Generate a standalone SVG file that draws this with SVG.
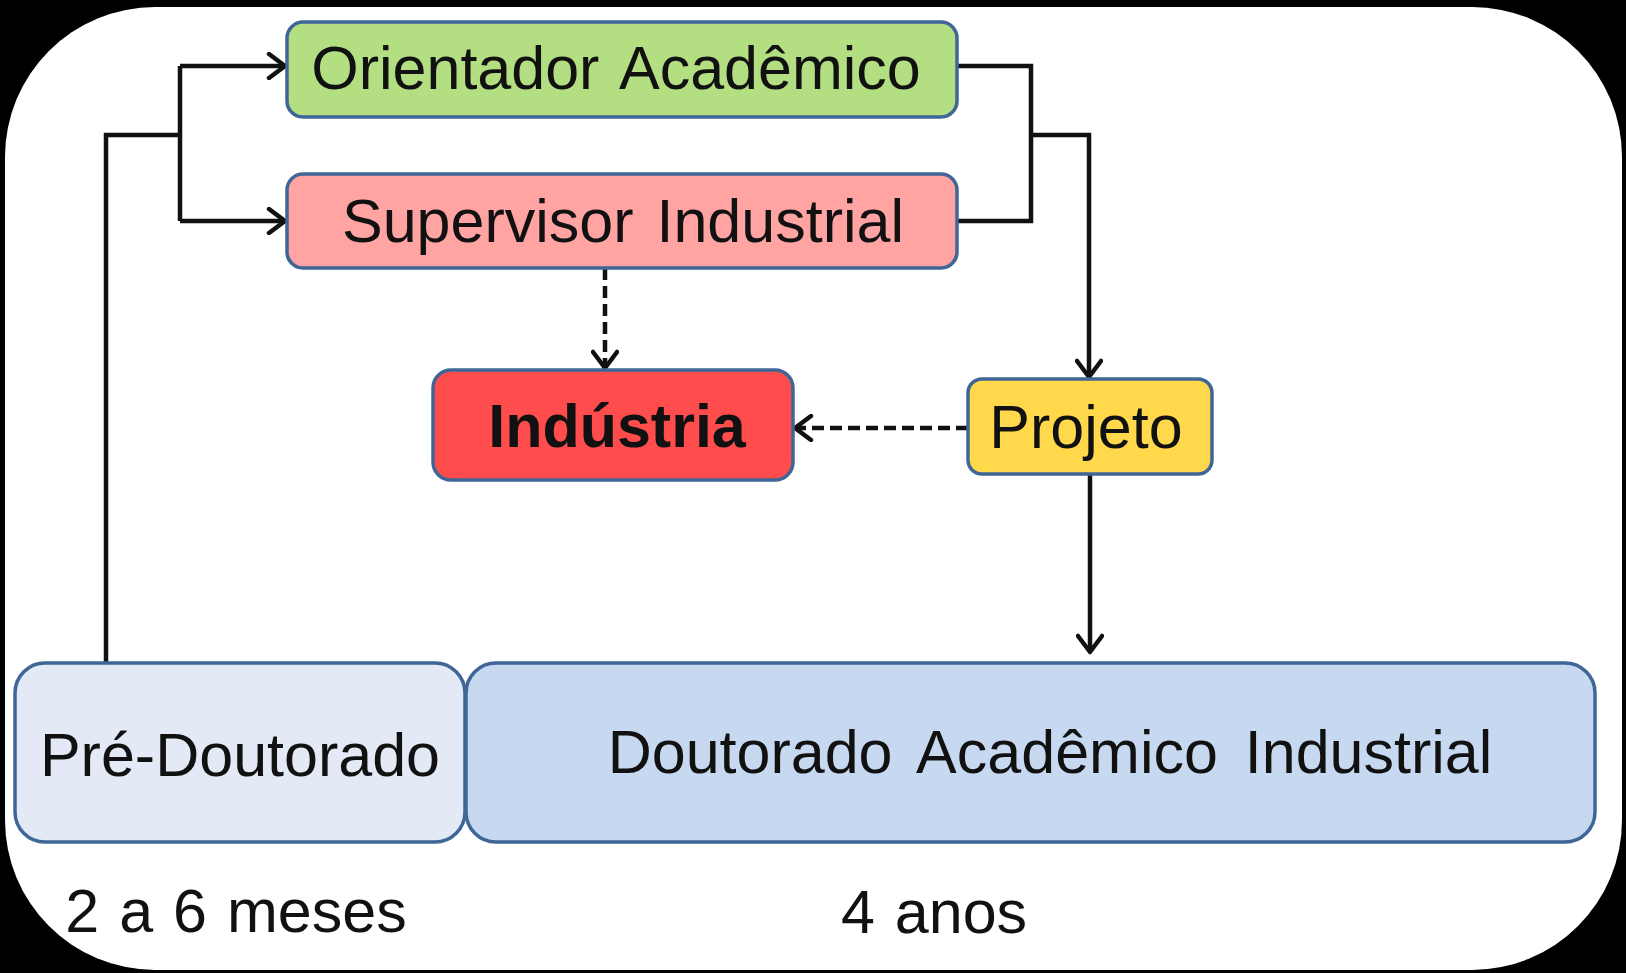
<svg xmlns="http://www.w3.org/2000/svg" width="1626" height="973" viewBox="0 0 1626 973">
<defs>
<style>
.box{stroke:#3f6697;stroke-width:3.5}
.t{font-family:"Liberation Sans",Arial,sans-serif;font-size:61px;fill:#111;text-anchor:middle;word-spacing:3px}
.b{font-weight:bold}
.ln{fill:none;stroke:#111;stroke-width:4.5}
.dash{stroke-dasharray:12 6}
</style>
<marker id="arr" viewBox="0 0 22 28" refX="19" refY="14" markerWidth="22" markerHeight="28" markerUnits="userSpaceOnUse" orient="auto">
<path d="M3,2 L19,14 L3,26" fill="none" stroke="#111" stroke-width="4.5" stroke-linejoin="round" stroke-linecap="round"/>
</marker>
</defs>
<rect x="0" y="0" width="1626" height="973" fill="#000"/>
<rect x="5" y="7" width="1617" height="963" rx="150" ry="150" fill="#fff"/>

<g id="connectors">
<path class="ln" d="M106,663 V135 H180"/>
<path class="ln" d="M180,66 V221" />
<path class="ln" d="M180,66 H285" marker-end="url(#arr)"/>
<path class="ln" d="M180,221 H285" marker-end="url(#arr)"/>
<path class="ln" d="M957,66 H1031 V221 H957"/>
<path class="ln" d="M1031,135 H1089 V377" marker-end="url(#arr)"/>
<path class="ln dash" d="M605,268 V368" marker-end="url(#arr)"/>
<path class="ln dash" d="M968,428 H795" marker-end="url(#arr)"/>
<path class="ln" d="M1090,475 V652" marker-end="url(#arr)"/>
</g>

<g id="orientador">
<rect class="box" x="287" y="22" width="670" height="95" rx="16" fill="#b3de82"/>
<text class="t" x="616" y="89" style="word-spacing:6px">Orientador Acadêmico</text>
</g>
<g id="supervisor">
<rect class="box" x="287" y="174" width="670" height="94" rx="16" fill="#ffa3a3"/>
<text class="t" x="623" y="242" style="word-spacing:6px">Supervisor Industrial</text>
</g>
<g id="industria">
<rect class="box" x="433" y="370" width="360" height="110" rx="18" fill="#ff4d4d"/>
<text class="t b" x="617" y="447">Indústria</text>
</g>
<g id="projeto">
<rect class="box" x="968" y="379" width="244" height="95" rx="14" fill="#ffd84b"/>
<text class="t" x="1086" y="448">Projeto</text>
</g>
<g id="pre-doutorado">
<rect class="box" x="15" y="663" width="450" height="179" rx="30" fill="#e3eaf5"/>
<text class="t" x="240" y="776">Pré-Doutorado</text>
</g>
<g id="doutorado">
<rect class="box" x="466" y="663" width="1129" height="179" rx="30" fill="#c6d9f0"/>
<text class="t" x="1050" y="773" style="word-spacing:10px">Doutorado Acadêmico Industrial</text>
</g>
<g id="labels">
<text class="t" x="236" y="932">2 a 6 meses</text>
<text class="t" x="934" y="933">4 anos</text>
</g>
</svg>
